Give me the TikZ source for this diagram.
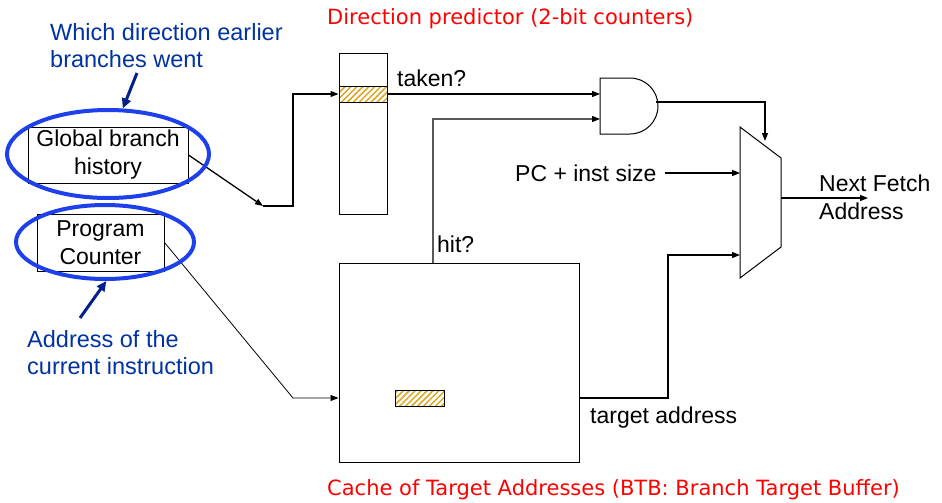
\documentclass[tikz,border=0pt]{standalone}
\usepackage{fontspec}
\setmainfont{Liberation Sans}
\newfontfamily\titlefont{DejaVu Sans}
\usetikzlibrary{arrows.meta,patterns.meta,shapes.geometric}
\definecolor{notetext}{RGB}{0,51,160}
\definecolor{notering}{RGB}{30,64,235}
\definecolor{notearrow}{RGB}{0,32,140}
\definecolor{hatchgold}{RGB}{218,165,32}

\begin{document}
\begin{tikzpicture}[x=1pt,y=-1pt,
		box/.style={draw, line width=1pt, inner sep=0pt, align=center, font=\fontsize{23}{28}\selectfont},
		sig/.style={inner sep=0pt, anchor=west, font=\fontsize{23}{28}\selectfont},
		notetxt/.style={inner sep=0pt, anchor=west, align=left, text=notetext, font=\fontsize{23.5}{27.5}\selectfont},
		redtitle/.style={inner sep=0pt, anchor=west, text=red, font=\titlefont\fontsize{21}{25}\selectfont},
		ring/.style={draw=notering, line width=4pt, ellipse, inner sep=0pt},
		hatch/.style={draw, line width=1pt, pattern={Lines[angle=45,distance=4.2pt,line width=1.5pt]}, pattern color=hatchgold},
		wire/.style={line width=1.3pt, -{Triangle[length=8pt,width=6pt,black]}},
		notearr/.style={draw=notearrow, line width=3pt, -{Triangle[length=10pt,width=9pt]}}]
		
		\useasboundingbox (0,0) rectangle (942,503);
		
		% THE BLOCKS
		\node[box, minimum width=160pt, minimum height=56pt] (gbh) at (108,155) {Global branch\\history};
		\node[box, minimum width=127pt, minimum height=57pt] (pc) at (100.5,242.5) {Program\\Counter};
		\node[box, minimum width=48pt, minimum height=160pt] (pred) at (363,134) {};
		\node[box, minimum width=240pt, minimum height=199pt] (btb) at (459,362.5) {};
		%
		% THE HATCHED ENTRIES
		\path[hatch] (339,86) rectangle (387,102);
		\coordinate (predrow) at (363,94);
		\path[hatch] (395,390) rectangle (444,406);
		\coordinate (btbrow) at (459,398);
		%
		% AND GATE
		\draw[line width=1pt] (600,78) -- (630,78) arc[start angle=90,end angle=-90,radius=28pt] -- (600,134) -- cycle;
		\coordinate (andin1) at (600,94);
		\coordinate (andin2) at (600,119);
		\coordinate (andout) at (656,102);
		%
		% MUX
		\draw[line width=1pt] (740,127) -- (781,158) -- (781,247) -- (740,278) -- cycle;
		\coordinate (muxsel) at (765,141);
		\coordinate (muxin1) at (740,173);
		\coordinate (muxin2) at (740,255);
		\coordinate (muxout) at (781,198);
		%
		% THE LABELS
		\node[sig] (taken) at (397,78) {taken?};
		\node[sig] (hit) at (437,244) {hit?};
		\node[sig] (tgt) at (590,418) {target address};
		\node[sig] (pcinc) at (515,173) {PC + inst size};
		\node[sig, align=left] (nfa) at (819,197) {Next Fetch\\Address};
		\node[redtitle] (predtitle) at (327,19) {Direction predictor (2-bit counters)};
		\node[redtitle] (btbtitle) at (327,490) {Cache of Target Addresses (BTB: Branch Target Buffer)};
		%
		% THE WIRES
		\coordinate (gbhjoin) at (263,206);
		\coordinate (gbhturn) at (293,206);
		\draw[wire] (gbh.east) -- (gbhjoin);
		\draw[wire] (gbhjoin) -- (gbhturn) |- (pred.west |- predrow);
		\draw[wire] (pred.east |- predrow) -- (andin1);
		\coordinate (hitbase) at (433,263);
		\draw[wire, draw=black!65] (hitbase) |- (andin2);
		\draw[wire] (andout) -| (muxsel);
		\draw[wire] ([xshift=8pt]pcinc.east) -- (muxin1);
		\coordinate (pcturn) at (293,398);
		\draw[wire, line width=0.8pt] (pc.east) -- (pcturn) -- (btb.west |- btbrow);
		\coordinate (tgtturn) at (668,255);
		\draw[wire] (btb.east |- btbrow) -| (tgtturn) -- (muxin2);
		\coordinate (nfaend) at (868,198);
		\draw[wire] (muxout) -- (nfaend);
		%
		% THE BLUE NOTES
		\node[notetxt] (whichdir) at (50,45.5) {Which direction earlier\\branches went};
		\node[notetxt] (addrnote) at (27,352.5) {Address of the\\current instruction};
		\node[ring, minimum width=202pt, minimum height=88pt] (gbhring) at (108,154) {};
		\node[ring, minimum width=178pt, minimum height=74pt] (pcring) at (105,242) {};
		\coordinate (whichtail) at (137,73);
		\draw[notearr] (whichtail) -- (gbhring.72);
		\coordinate (addrtail) at (80,318);
		\draw[notearr] (addrtail) -- (pcring.-88);
	\end{tikzpicture}
\end{document}
